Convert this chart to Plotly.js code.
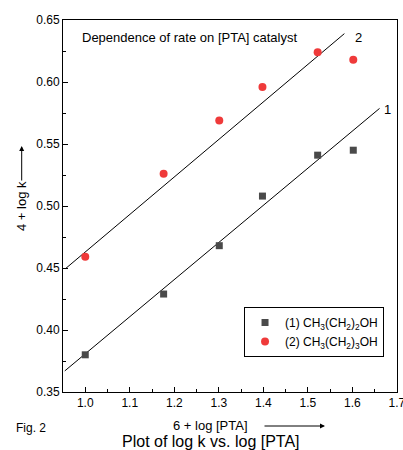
<!DOCTYPE html>
<html>
<head>
<meta charset="utf-8">
<script src="https://cdn.plot.ly/plotly-3.0.1.min.js"></script>
<style>html,body{margin:0;padding:0;background:#fff;}#chart{width:403px;height:450px;}</style>
</head>
<body>
<div id="chart"></div>
<script>
// log [PTA] values (6 + log [PTA])
const logPTA = [1.0, 1.176, 1.301, 1.398, 1.522, 1.602];
// series 1: CH3(CH2)2OH  (4 + log k)
const series1 = [0.380, 0.429, 0.468, 0.508, 0.541, 0.545];
// series 2: CH3(CH2)3OH  (4 + log k)
const series2 = [0.459, 0.526, 0.569, 0.596, 0.624, 0.618];
// fitted lines (endpoints)
const fit1X = [0.954, 1.661];
const fit1Y = [0.367, 0.5787];
const fit2X = [0.956, 1.582];
const fit2Y = [0.4496, 0.639];
const xTicks = [1.0, 1.1, 1.2, 1.3, 1.4, 1.5, 1.6, 1.7];
const xTickText = ['1.0','1.1','1.2','1.3','1.4','1.5','1.6','1.7'];
const yTicks = [0.35, 0.40, 0.45, 0.50, 0.55, 0.60, 0.65];
const yTickText = ['0.35','0.40','0.45','0.50','0.55','0.60','0.65'];

const FONT = 'Liberation Sans, Arial, sans-serif';

const traces = [
  {x: fit1X, y: fit1Y, mode: 'lines', line: {color: '#000', width: 1}, showlegend: false, hoverinfo: 'skip'},
  {x: fit2X, y: fit2Y, mode: 'lines', line: {color: '#000', width: 1}, showlegend: false, hoverinfo: 'skip'},
  {x: logPTA, y: series1, mode: 'markers', name: '(1) CH<sub>3</sub>(CH<sub>2</sub>)<sub>2</sub>OH',
   marker: {symbol: 'square', size: 7, color: '#4a4a4a'}},
  {x: logPTA, y: series2, mode: 'markers', name: '(2) CH<sub>3</sub>(CH<sub>2</sub>)<sub>3</sub>OH',
   marker: {symbol: 'circle', size: 8, color: '#ef3a3a'}}
];

const layout = {
  width: 403, height: 450,
  margin: {l: 63, r: 6, t: 20, b: 58},
  paper_bgcolor: '#fff', plot_bgcolor: '#fff',
  font: {family: FONT, size: 12, color: '#000'},
  showlegend: true,
  legend: {x: 0.542, y: 0.2285, xanchor: 'left', yanchor: 'top', bgcolor: '#fff',
           bordercolor: '#000', borderwidth: 1, font: {family: FONT, size: 12, color: '#000'},
           tracegroupgap: 0},
  xaxis: {range: [0.95, 1.7002], tickvals: xTicks, ticktext: xTickText, ticks: 'inside', ticklen: 5,
          tickcolor: '#000', showline: true, linecolor: '#000', linewidth: 1, mirror: true,
          showgrid: false, zeroline: false, tickfont: {size: 12}, ticklabeloverflow: 'allow',
          minor: {dtick: 0.05, ticks: 'inside', ticklen: 3, tickcolor: '#000', showgrid: false}},
  yaxis: {range: [0.35, 0.65], tickvals: yTicks, ticktext: yTickText, ticks: 'inside', ticklen: 5,
          tickcolor: '#000', showline: true, linecolor: '#000', linewidth: 1, mirror: true,
          showgrid: false, zeroline: false, tickfont: {size: 12},
          minor: {dtick: 0.025, ticks: 'inside', ticklen: 3, tickcolor: '#000', showgrid: false}},
  annotations: [
    {text: 'Dependence of rate on [PTA] catalyst', xref: 'paper', yref: 'paper', x: (80-63)/334, y: (392-38)/372,
     xanchor: 'left', yanchor: 'middle', showarrow: false, font: {size: 13}},
    {text: '2', xref: 'paper', yref: 'paper', x: (358-63)/334, y: (392-38)/372, xanchor: 'center', yanchor: 'middle', showarrow: false, font: {size: 13}},
    {text: '1', xref: 'paper', yref: 'paper', x: (387-63)/334, y: (392-109)/372, xanchor: 'center', yanchor: 'middle', showarrow: false, font: {size: 13}},
    {text: '4 + log k', xref: 'paper', yref: 'paper', x: (21-63)/334, y: (392-206)/372, textangle: -90,
     xanchor: 'center', yanchor: 'middle', showarrow: false, font: {size: 13}},
    {text: '', xref: 'paper', yref: 'paper', x: (21.7-63)/334, y: (392-146)/372, axref: 'pixel', ayref: 'pixel',
     ax: 0, ay: 36, showarrow: true, arrowhead: 2, arrowsize: 1, arrowwidth: 1, arrowcolor: '#000'},
    {text: '6 + log [PTA]', xref: 'paper', yref: 'paper', x: (210-63)/334, y: (392-426)/372,
     xanchor: 'center', yanchor: 'middle', showarrow: false, font: {size: 13}},
    {text: '', xref: 'paper', yref: 'paper', x: (325-63)/334, y: (392-426)/372, ax: -62, ay: 0,
     showarrow: true, arrowhead: 2, arrowsize: 1, arrowwidth: 1, arrowcolor: '#000'},
    {text: 'Fig. 2', xref: 'paper', yref: 'paper', x: (14-63)/334, y: (392-428)/372,
     xanchor: 'left', yanchor: 'middle', showarrow: false, font: {size: 12}},
    {text: 'Plot of log k vs. log [PTA]', xref: 'paper', yref: 'paper', x: (211-63)/334, y: (392-442)/372,
     xanchor: 'center', yanchor: 'middle', showarrow: false, font: {size: 16}}
  ]
};

Plotly.newPlot('chart', traces, layout, {displayModeBar: false, staticPlot: true});
</script>
</body>
</html>
